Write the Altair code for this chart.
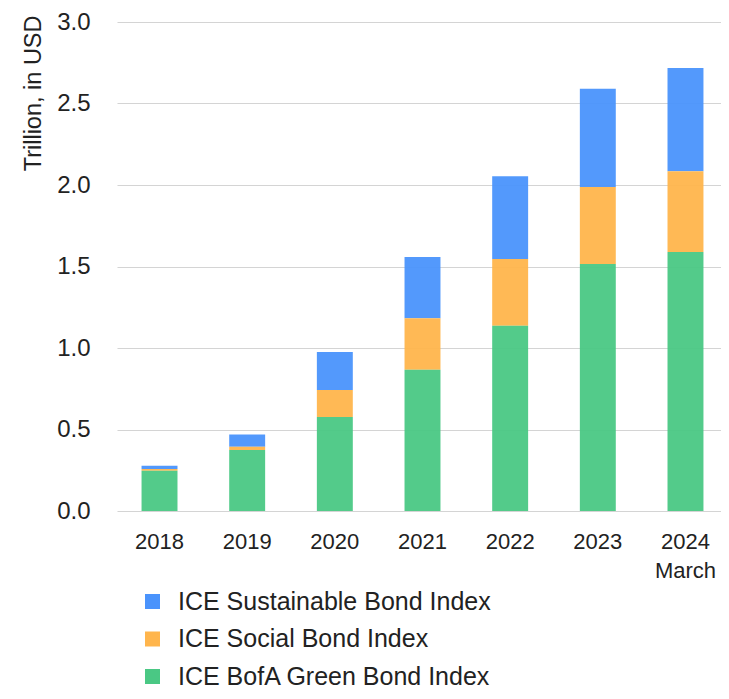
import altair as alt
import pandas as pd

years = ["2018", "2019", "2020", "2021", "2022", "2023", "2024"]
green = [0.247, 0.374, 0.577, 0.867, 1.137, 1.515, 1.589]
social = [0.011, 0.020, 0.165, 0.315, 0.409, 0.473, 0.495]
sustainable = [0.020, 0.076, 0.233, 0.376, 0.507, 0.603, 0.634]

series_names = ["ICE Sustainable Bond Index", "ICE Social Bond Index", "ICE BofA Green Bond Index"]
series_colors = ["#4a93fc", "#ffb54c", "#4ac884"]
stack_rank = {"ICE BofA Green Bond Index": 0, "ICE Social Bond Index": 1, "ICE Sustainable Bond Index": 2}

rows = []
for i, y in enumerate(years):
    for name, vals in zip(series_names, [sustainable, social, green]):
        rows.append({"year": y, "series": name, "value": vals[i], "rank": stack_rank[name]})
df = pd.DataFrame(rows)

FONT = "Liberation Sans"

chart = alt.Chart(df).mark_bar(opacity=0.95).encode(
    x=alt.X(
        "year:N",
        sort=years,
        scale=alt.Scale(range=[0, 611], paddingInner=0.59, paddingOuter=0.28),
        axis=alt.Axis(
            title=None,
            labelAngle=0,
            ticks=False,
            domain=False,
            labelPadding=20,
            labelFontSize=22,
            labelFont=FONT,
            labelColor="#222222",
            labelLineHeight=29,
            labelExpr="datum.value == '2024' ? ['2024', 'March'] : datum.value",
            labelOverlap=False,
        ),
    ),
    y=alt.Y(
        "value:Q",
        stack="zero",
        scale=alt.Scale(domain=[0, 3.0]),
        axis=alt.Axis(
            title="Trillion, in USD",
            values=[0, 0.5, 1.0, 1.5, 2.0, 2.5, 3.0],
            format=".1f",
            ticks=False,
            domain=False,
            labelPadding=27,
            labelFontSize=24,
            labelFont=FONT,
            labelColor="#222222",
            titleFont=FONT,
            titleFontSize=23.5,
            titleFontWeight="normal",
            titleColor="#222222",
            titleAngle=270,
            titleAlign="right",
            titleBaseline="middle",
            titleX=-84,
            titleY=-7,
            gridColor="#d4d4d4",
            gridWidth=1.2,
        ),
    ),
    color=alt.Color(
        "series:N",
        scale=alt.Scale(domain=series_names, range=series_colors),
        legend=alt.Legend(
            title=None,
            orient="none",
            legendX=23,
            legendY=567,
            direction="vertical",
            symbolType="square",
            symbolSize=225,
            symbolStrokeWidth=0,
            symbolOpacity=1,
            labelFont=FONT,
            labelFontSize=25,
            labelColor="#222222",
            labelOffset=13,
            rowPadding=11.5,
            padding=0,
            labelLimit=600,
        ),
    ),
    order=alt.Order("rank:Q", sort="ascending"),
).properties(
    width=604,
    height=489,
    autosize=alt.AutoSizeParams(type="none"),
    padding={"left": 109, "top": 14, "right": 0, "bottom": 180},
    background="white",
).configure_view(stroke=None)

chart.save("out.html", embed_options={"renderer": "svg", "actions": False})
